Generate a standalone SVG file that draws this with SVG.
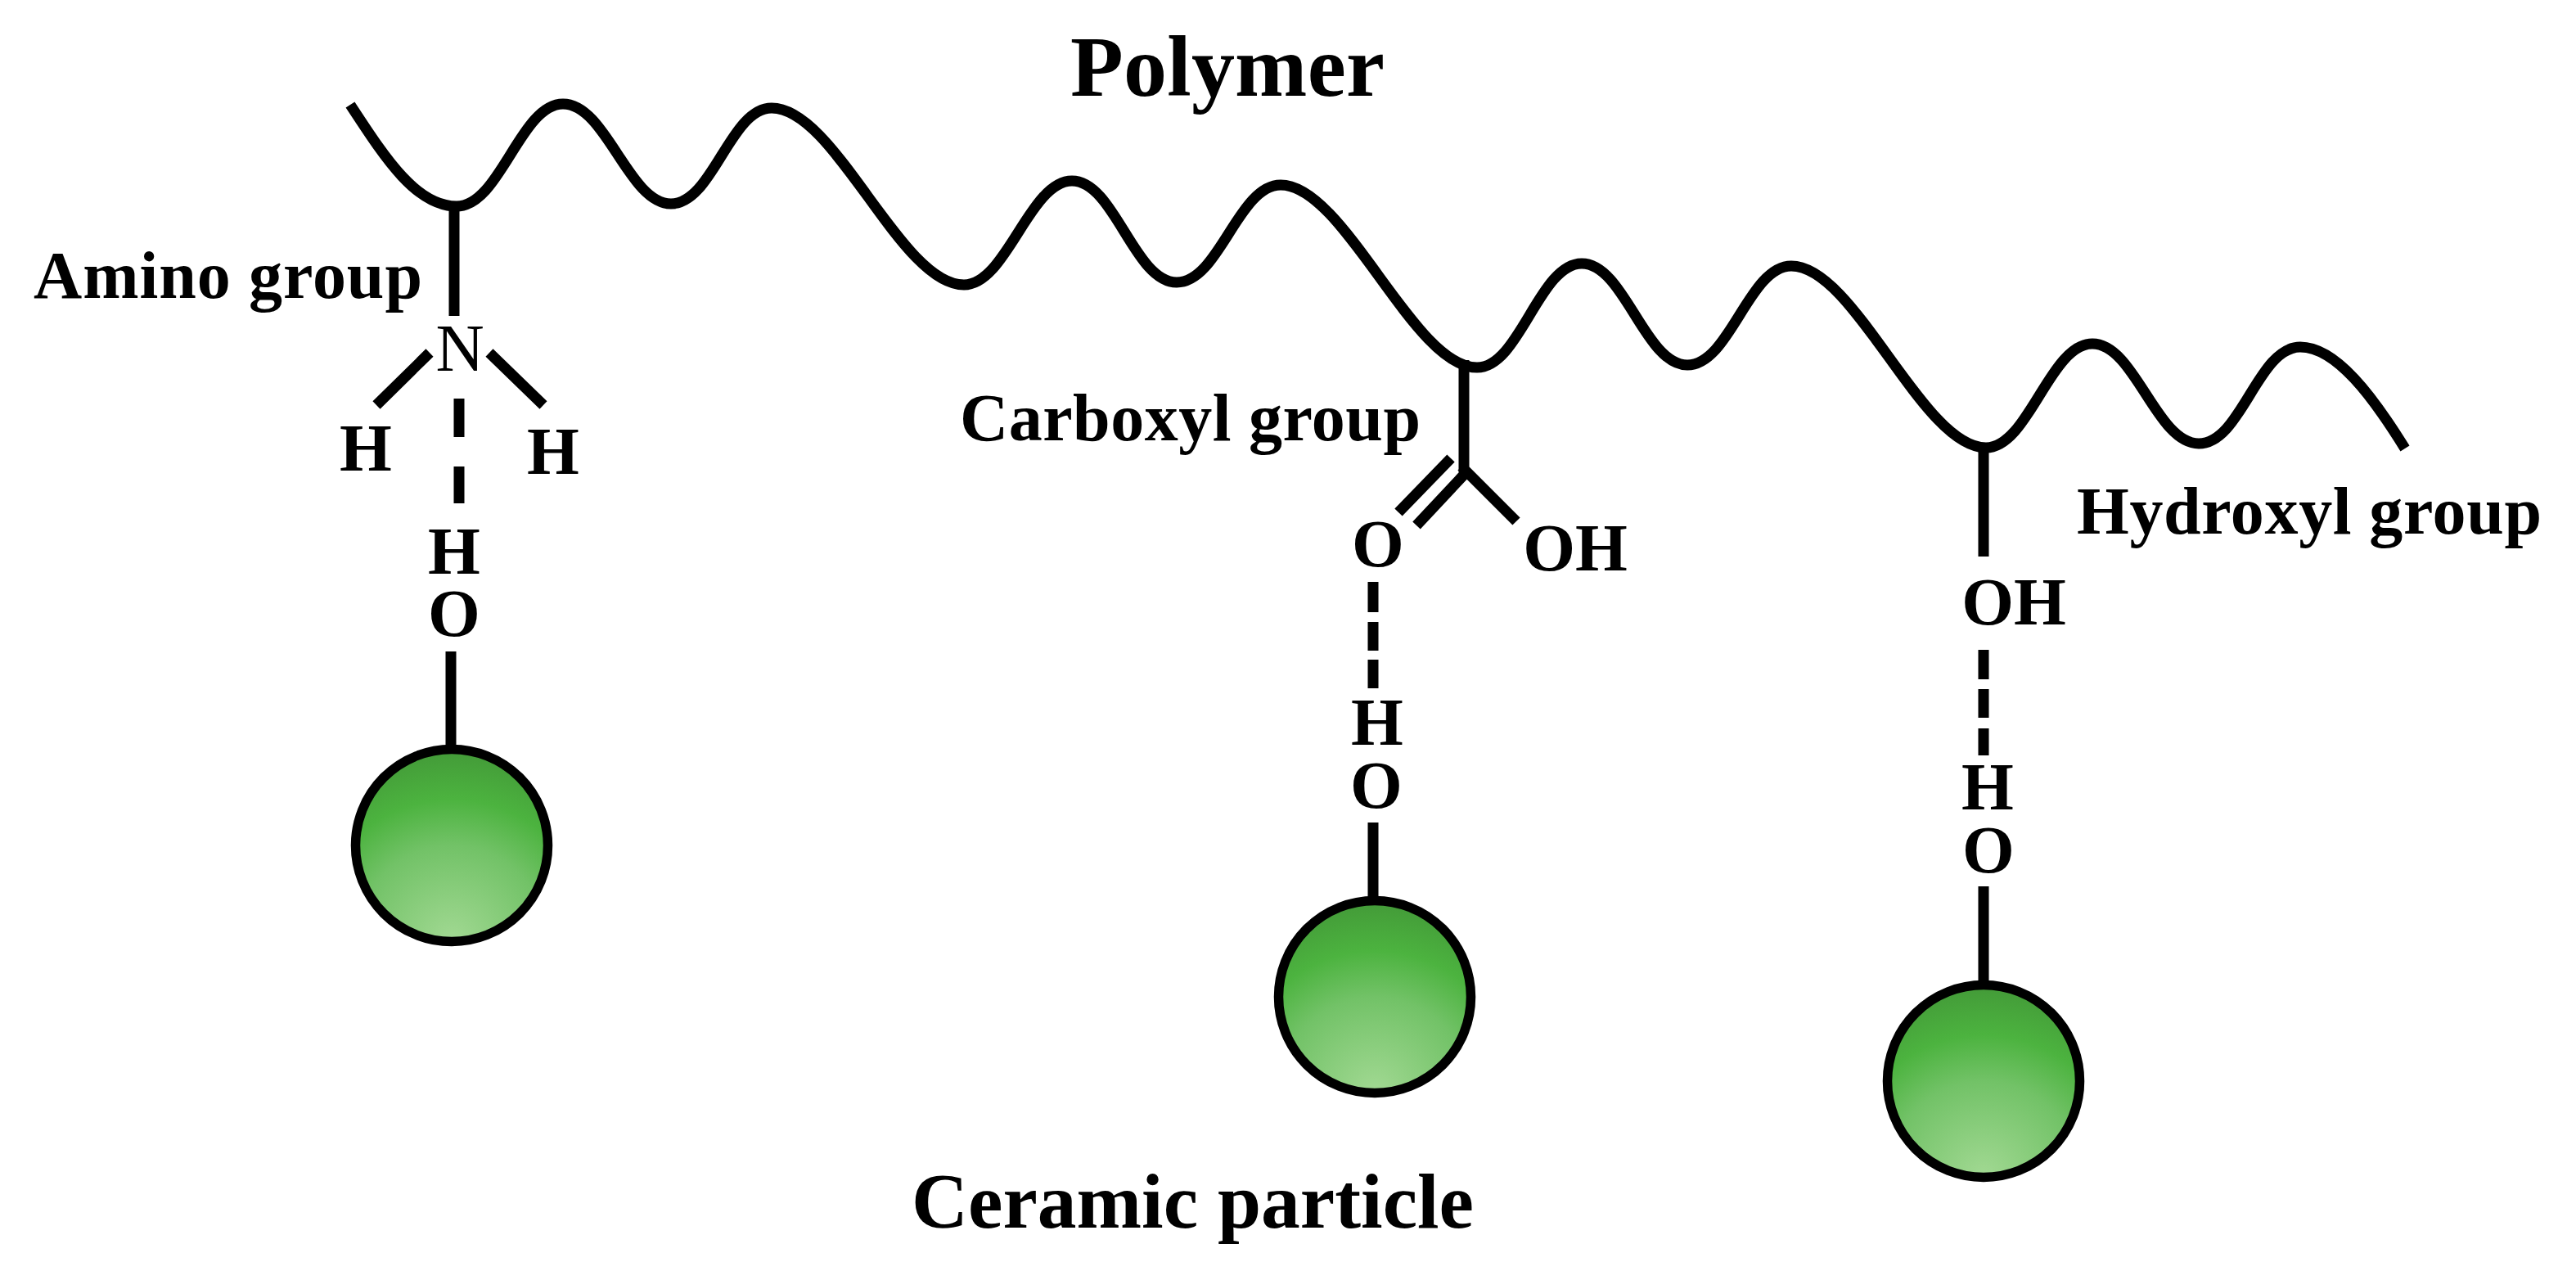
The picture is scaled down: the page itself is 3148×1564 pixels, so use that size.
<svg xmlns="http://www.w3.org/2000/svg" width="3148" height="1564" viewBox="0 0 3148 1564">
<style>
text{font-family:"Liberation Serif","Times New Roman",serif;font-weight:bold;fill:#000;font-size:82px}
.c{text-anchor:middle}
.n{font-weight:normal}
.t{font-size:106px}
.u{font-size:95.5px}
.b{fill:none;stroke:#000;stroke-width:13}
.p{fill:url(#g);stroke:#000;stroke-width:11.5}
</style>
<defs>
<radialGradient id="g" cx="0.5" cy="1" r="1">
<stop offset="0" stop-color="#a2d993"/>
<stop offset="0.5" stop-color="#72c267"/>
<stop offset="0.74" stop-color="#4cb33f"/>
<stop offset="1" stop-color="#439a38"/>
</radialGradient>
</defs>
<rect width="3148" height="1564" fill="#fff"/>
<g id="connectors">
<path class="b" d="M428 128C470 192 508 252 558 252C611 252 636 127 688 127C741 127 768 249 820 249C871 249 892 132 943 132C1021 132 1100 348 1178 348C1230 348 1258 221 1310 221C1362 221 1386 345 1438 345C1490 345 1513 226 1565 226C1643 226 1727 449 1805 449C1857 449 1881 322 1933 322C1985 322 2010 446 2062 446C2114 446 2137 325 2189 325C2267 325 2349 547 2427 547C2479 547 2505 420 2557 420C2609 420 2635 542 2687 542C2739 542 2759 424 2811 424C2855 424 2900 485 2939 548"/>
<path class="b" d="M555 253V386M525 431L460 495M598 431L664 495M561 487V534M561 570V615M551 796V915"/>
<path class="b" d="M1789 440V577M1790 579L1731 642M1773 560L1709 626M1786 570L1853 637M1678 711V748M1678 760V795M1678 806V841M1678 1005V1100"/>
<path class="b" d="M2424 546V680M2424 794V830M2424 842V877M2424 890V923M2424 1083V1203"/>
</g>
<g id="title"><text class="t" x="1308" y="117" textLength="384">Polymer</text></g>
<g id="amino">
<text x="41" y="364" textLength="475">Amino group</text>
<text class="c n" x="562" y="453">N</text>
<text class="c" x="447" y="575">H</text>
<text class="c" x="676" y="579">H</text>
<text class="c" x="555" y="701">H</text>
<text class="c" x="555" y="777">O</text>
</g>
<g id="carboxyl">
<text x="1173" y="538" textLength="563">Carboxyl group</text>
<text class="c" x="1684" y="692">O</text>
<text class="c" x="1925" y="697">OH</text>
<text class="c" x="1683" y="910">H</text>
<text class="c" x="1682" y="987">O</text>
</g>
<g id="hydroxyl">
<text x="2538" y="652" textLength="568">Hydroxyl group</text>
<text class="c" x="2461" y="763">OH</text>
<text class="c" x="2429" y="989">H</text>
<text class="c" x="2430" y="1066">O</text>
</g>
<g id="particle-1"><circle class="p" cx="552" cy="1033" r="117.5"/></g>
<g id="particle-2"><circle class="p" cx="1680" cy="1218" r="117.5"/></g>
<g id="particle-3"><circle class="p" cx="2424" cy="1321" r="117.5"/></g>
<g id="caption"><text class="u" x="1114" y="1500" textLength="687">Ceramic particle</text></g>
</svg>
